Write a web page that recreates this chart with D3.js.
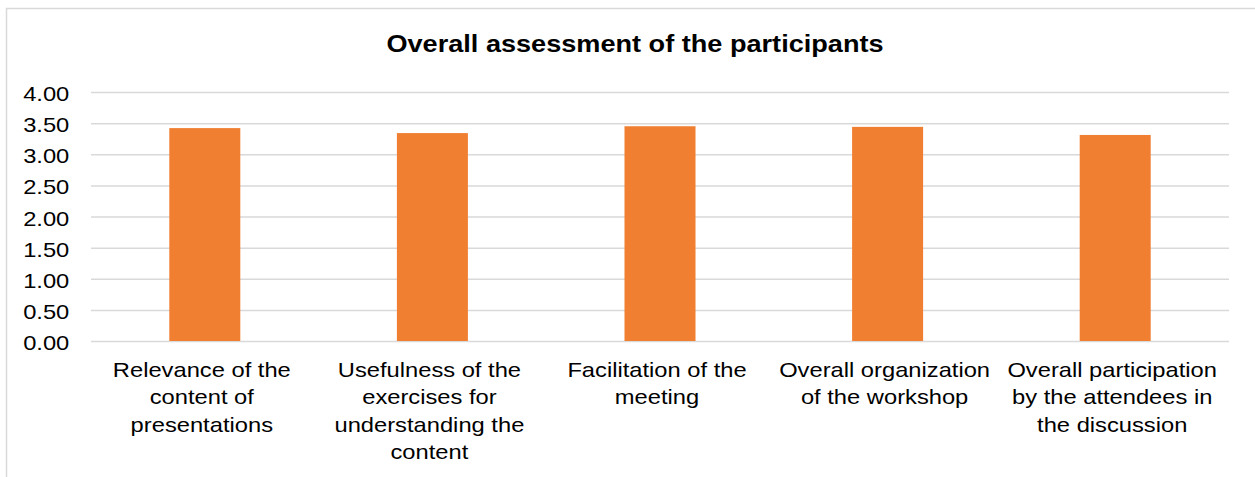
<!DOCTYPE html>
<html>
<head>
<meta charset="utf-8">
<script src="https://cdn.jsdelivr.net/npm/d3@7"></script>
<style>
  html, body { margin: 0; padding: 0; background: #fff; }
  svg { display: block; font-family: "Liberation Sans", Arial, sans-serif; }
</style>
</head>
<body>
<svg id="chart" width="1255" height="477"></svg>
<script>
// chart data
const title = 'Overall assessment of the participants';
const categories = [
  'Relevance of the\ncontent of\npresentations',
  'Usefulness of the\nexercises for\nunderstanding the\ncontent',
  'Facilitation of the\nmeeting',
  'Overall organization\nof the workshop',
  'Overall participation\nby the attendees in\nthe discussion'
];
const values = [3.42, 3.34, 3.45, 3.44, 3.31];
const yTicks = [0, 0.5, 1, 1.5, 2, 2.5, 3, 3.5, 4];

const svg = d3.select('#chart');
const margin = { top: 92, left: 91, right: 26, bottom: 136 };
const width = 1255 - margin.left - margin.right;
const height = 477 - margin.top - margin.bottom;
const stretch = 1.13; // text in the picture is a bit wider than tall

// outer frame (only top and left edges are visible)
svg.append('path')
   .attr('d', 'M6.5,477 V8.5 H1255')
   .attr('fill', 'none')
   .attr('stroke', '#d9d9d9')
   .attr('stroke-width', 1.5);

svg.append('text')
   .attr('transform', `translate(635,52) scale(${stretch},1)`)
   .attr('text-anchor', 'middle')
   .attr('font-size', 24)
   .attr('font-weight', 'bold')
   .attr('fill', '#000')
   .text(title);

const g = svg.append('g')
             .attr('transform', `translate(${margin.left},${margin.top})`);

const xScale = d3.scaleBand()
                 .domain(categories)
                 .range([0, width])
                 .paddingInner(0.688)
                 .paddingOuter(0.344);

const yScale = d3.scaleLinear()
                 .domain([0, 4])
                 .range([height, 0]);

// gridlines + tick labels
const yAxis = g.append('g')
               .call(d3.axisLeft(yScale)
                       .tickValues(yTicks)
                       .tickSize(-width)
                       .tickFormat(d3.format('.2f')));

yAxis.select('.domain').remove();
yAxis.selectAll('.tick line')
     .attr('stroke', '#d9d9d9')
     .attr('stroke-width', 1.5);
yAxis.selectAll('.tick text')
     .attr('x', null)
     .attr('dy', null)
     .attr('transform', `translate(-21.7,8.6) scale(${stretch},1)`)
     .attr('font-size', 21)
     .attr('font-family', '"Liberation Sans", Arial, sans-serif')
     .attr('fill', '#000');

// bars
g.selectAll('.bar')
 .data(values)
 .enter()
 .append('rect')
 .attr('class', 'bar')
 .attr('x', (d, i) => xScale(categories[i]))
 .attr('width', xScale.bandwidth())
 .attr('y', d => yScale(d))
 .attr('height', d => height - yScale(d))
 .attr('fill', '#f07f31');

// category labels
const labels = g.selectAll('.cat-label')
                .data(categories)
                .enter()
                .append('text')
                .attr('class', 'cat-label')
                .attr('transform', d => `translate(${xScale(d) + xScale.bandwidth() / 2 - 3},${height + 36}) scale(${stretch},1)`)
                .attr('text-anchor', 'middle')
                .attr('font-size', 21)
                .attr('fill', '#000');

labels.selectAll('tspan')
      .data(d => d.split('\n'))
      .enter()
      .append('tspan')
      .attr('x', 0)
      .attr('y', (d, i) => i * 27.5)
      .text(d => d);
</script>
</body>
</html>
